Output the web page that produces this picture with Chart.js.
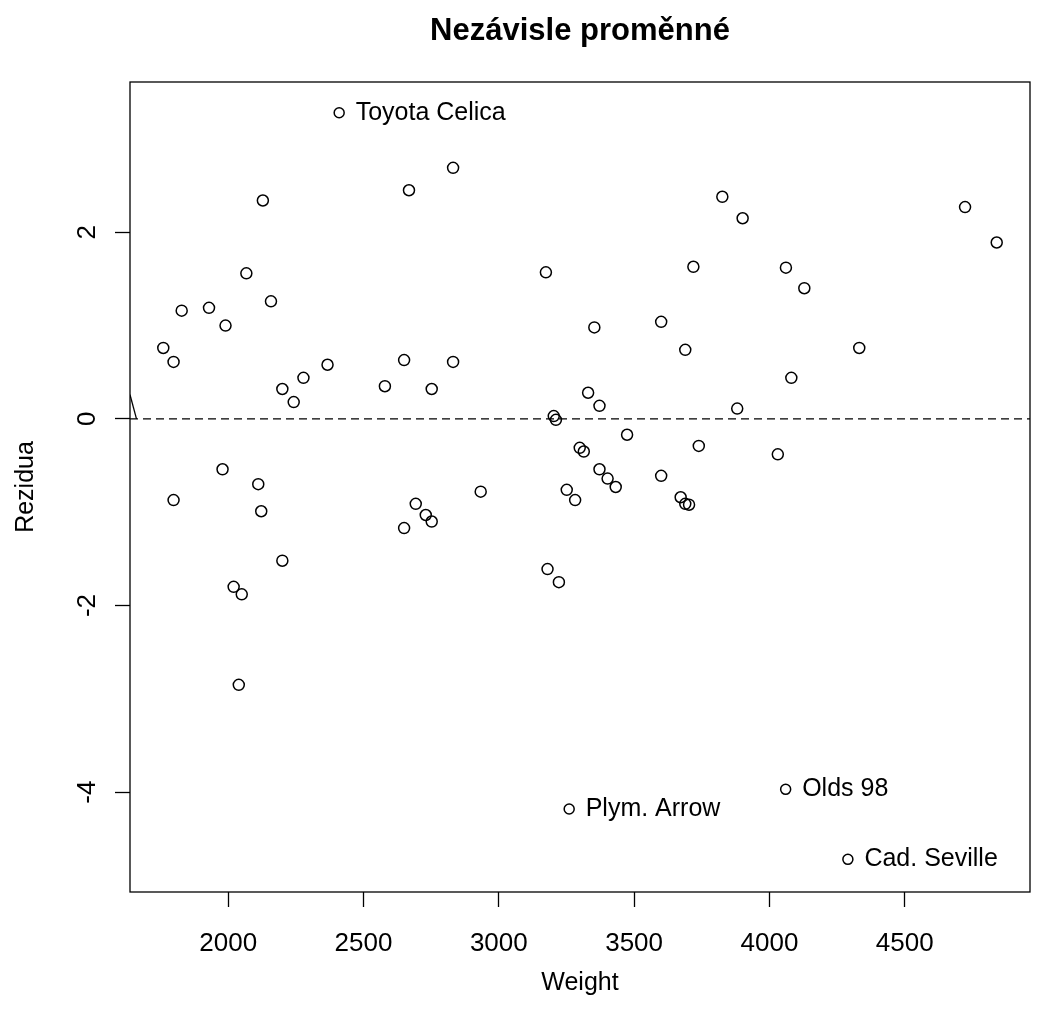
<!DOCTYPE html>
<html>
<head>
<meta charset="utf-8">
<script src="https://cdn.jsdelivr.net/npm/chart.js@4.4.1/dist/chart.umd.min.js"></script>
<style>
html, body { margin: 0; padding: 0; background: #fff; }
canvas { display: block; }
</style>
</head>
<body>
<canvas id="residualChart" width="1037" height="1020"></canvas>
<script>
// Hmotnost vozu a rezidua modelu
const weights = [
    2128, 2668, 2067, 2158, 1828, 1929, 1990, 1760, 1798, 2200,
    2242, 2278, 2367, 2579, 2650, 2831, 3826, 3174, 3719, 3353,
    3600, 3689, 2831, 2752, 3330, 3372, 3203, 3211, 3474, 3901,
    4723, 4840, 4061, 4129, 4332, 4081, 3881, 1979, 2111, 1798,
    2122, 2650, 2200, 2020, 2050, 2039, 3739, 3299, 3314, 3372,
    3402, 3432, 3600, 3672, 3689, 3703, 2933, 3251, 3282, 2693,
    2730, 2752, 3180, 3222, 4031
];
const residuals = [
    2.34, 2.45, 1.56, 1.26, 1.16, 1.19, 1.00, 0.76, 0.61, 0.32,
    0.18, 0.44, 0.58, 0.35, 0.63, 2.69, 2.38, 1.57, 1.63, 0.98,
    1.04, 0.74, 0.61, 0.32, 0.28, 0.14, 0.03, -0.01, -0.17, 2.15,
    2.27, 1.89, 1.62, 1.40, 0.76, 0.44, 0.11, -0.54, -0.70, -0.87,
    -0.99, -1.17, -1.52, -1.80, -1.88, -2.85, -0.29, -0.31, -0.35, -0.54,
    -0.64, -0.73, -0.61, -0.84, -0.91, -0.92, -0.78, -0.76, -0.87, -0.91,
    -1.03, -1.10, -1.61, -1.75, -0.38
];

// Odlehlé body s popiskem
const outlierNames = ['Toyota Celica', 'Plym. Arrow', 'Olds 98', 'Cad. Seville'];
const outlierWeights = [2410, 3260, 4060, 4290];
const outlierResiduals = [3.28, -4.18, -3.97, -4.72];

// Kousek křivky u levého okraje
const curveWeights = [1637, 1661];
const curveResiduals = [0.26, 0];

const xTicks = [2000, 2500, 3000, 3500, 4000, 4500];
const yTicks = [-4, -2, 0, 2];
const xLimits = [1637, 4963];
const yLimits = [-5.07, 3.61];

const FONT = '"Liberation Sans", Arial, Helvetica, sans-serif';

function toPoints(xs, ys) {
    return xs.map((x, i) => ({ x: x, y: ys[i] }));
}

// Rámeček, titulek, otočené popisky osy y a jména bodů
const framePlugin = {
    id: 'frame',
    afterDraw(chart) {
        const { ctx, chartArea: a, scales } = chart;
        ctx.save();
        ctx.strokeStyle = '#000';
        ctx.lineWidth = 1.3;
        ctx.strokeRect(a.left, a.top, a.right - a.left, a.bottom - a.top);

        ctx.fillStyle = '#000';
        ctx.textAlign = 'center';
        ctx.textBaseline = 'middle';
        ctx.font = 'bold 31px ' + FONT;
        ctx.fillText('Nezávisle proměnné', (a.left + a.right) / 2, 31);

        ctx.font = '26px ' + FONT;
        yTicks.forEach(v => {
            const y = scales.y.getPixelForValue(v);
            ctx.save();
            ctx.translate(88, y);
            ctx.rotate(-Math.PI / 2);
            ctx.fillText(String(v), 0, 0);
            ctx.restore();
        });

        ctx.font = '25px ' + FONT;
        ctx.textAlign = 'left';
        const meta = chart.getDatasetMeta(1);
        meta.data.forEach((pt, i) => {
            ctx.fillText(outlierNames[i], pt.x + 16.5, pt.y);
        });
        ctx.restore();
    }
};

const tickGrid = {
    display: true,
    drawOnChartArea: false,
    drawTicks: true,
    tickLength: 15,
    tickColor: '#000',
    tickWidth: 1.3
};

const ctx = document.getElementById('residualChart').getContext('2d');
new Chart(ctx, {
    type: 'scatter',
    data: {
        datasets: [
            {
                data: toPoints(weights, residuals),
                pointStyle: 'circle',
                pointRadius: 5.5,
                pointBorderWidth: 1.5,
                borderColor: '#000',
                backgroundColor: 'rgba(0,0,0,0)'
            },
            {
                data: toPoints(outlierWeights, outlierResiduals),
                pointStyle: 'circle',
                pointRadius: 5,
                pointBorderWidth: 1.5,
                borderColor: '#000',
                backgroundColor: 'rgba(0,0,0,0)'
            },
            {
                type: 'line',
                data: toPoints(xLimits, [0, 0]),
                borderColor: '#000',
                borderWidth: 1.3,
                borderDash: [8, 5],
                pointRadius: 0
            },
            {
                type: 'line',
                data: toPoints(curveWeights, curveResiduals),
                borderColor: '#000',
                borderWidth: 1.3,
                pointRadius: 0
            }
        ]
    },
    options: {
        responsive: false,
        animation: false,
        layout: {
            padding: { top: 82, right: 3, bottom: 0, left: 0 }
        },
        scales: {
            x: {
                type: 'linear',
                min: xLimits[0],
                max: xLimits[1],
                afterBuildTicks: s => { s.ticks = xTicks.map(v => ({ value: v })); },
                afterFit: s => { s.height = 128; },
                grid: tickGrid,
                border: { display: false },
                ticks: {
                    font: { family: FONT, size: 26 },
                    color: '#000',
                    padding: 21,
                    maxRotation: 0,
                    autoSkip: false,
                    callback: v => String(v)
                },
                title: {
                    display: true,
                    text: 'Weight',
                    color: '#000',
                    font: { family: FONT, size: 25 },
                    padding: { top: 0, bottom: 22 }
                }
            },
            y: {
                type: 'linear',
                min: yLimits[0],
                max: yLimits[1],
                afterBuildTicks: s => { s.ticks = yTicks.map(v => ({ value: v })); },
                afterFit: s => { s.width = 130; },
                grid: tickGrid,
                border: { display: false },
                ticks: { display: false },
                title: {
                    display: true,
                    text: 'Rezidua',
                    color: '#000',
                    font: { family: FONT, size: 25 },
                    padding: { top: 11, bottom: 0 }
                }
            }
        },
        plugins: {
            legend: { display: false },
            tooltip: { enabled: false }
        }
    },
    plugins: [framePlugin]
});
</script>
</body>
</html>
